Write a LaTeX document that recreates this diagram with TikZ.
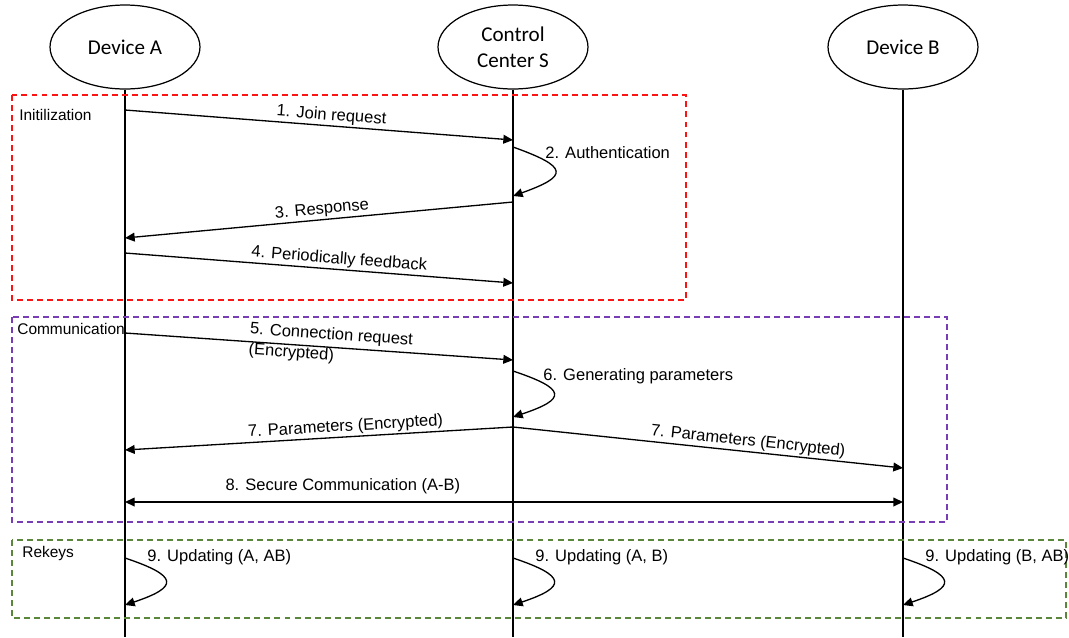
\documentclass[tikz,border=0pt]{standalone}
\usepackage{fontspec}
\setmainfont{Liberation Sans}
\newfontfamily\calibri{Carlito}
\usetikzlibrary{shapes.geometric,arrows.meta,positioning,calc}

\definecolor{initred}{RGB}{250,20,20}
\definecolor{commpurple}{RGB}{120,60,180}
\definecolor{rekeygreen}{RGB}{90,135,60}

\begin{document}
\begin{tikzpicture}[
  x=0.02cm, y=-0.02cm,
  party/.style={ellipse, draw, line width=0.7pt, minimum width=3cm, minimum height=1.68cm, align=center, font=\calibri\fontsize{12}{15}\selectfont},
  phase/.style={dashed, dash pattern=on 3.4pt off 2.3pt, line width=0.8pt},
  phaselbl/.style={anchor=west, inner sep=0pt, font=\fontsize{8.8}{10}\selectfont},
  msg/.style={-{Triangle[length=5.5pt, width=5pt]}, line width=0.75pt},
  lbl/.style={sloped, above, inner sep=1pt, font=\fontsize{9.4}{11}\selectfont},
  looplbl/.style={anchor=west, inner sep=0pt, font=\fontsize{9.4}{11}\selectfont}
]
\useasboundingbox (0,0) rectangle (1069,637);

% parties
\node[party] (A) at (125,47) {Device A};
\node[party] (S) at (513,47) {Control\\Center S};
\node[party] (B) at (903,47) {Device B};

% lifelines
\coordinate (Aend) at (125,637);
\coordinate (Send) at (513,637);
\coordinate (Bend) at (903,637);
\draw[line width=0.75pt] (A) -- (Aend);
\draw[line width=0.75pt] (S) -- (Send);
\draw[line width=0.75pt] (B) -- (Bend);

% phases
\draw[phase, initred] (12,95) rectangle (686,300);
\draw[phase, commpurple] (12,317) rectangle (947,522);
\draw[phase, rekeygreen] (12,540) rectangle (1066,618);
\node[phaselbl] (init) at (19,115) {Initilization};
\node[phaselbl] (comm) at (17,329) {Communication};
\node[phaselbl] (rekey) at (22,553) {Rekeys};

% message points
\coordinate (a1) at (125,110);  \coordinate (s1) at (513,140);
\coordinate (s2) at (513,147);  \coordinate (s3) at (513,196);
\coordinate (s4) at (513,202);  \coordinate (a2) at (125,238);
\coordinate (a3) at (125,253);  \coordinate (s5) at (513,283);
\coordinate (a4) at (125,333);  \coordinate (s6) at (513,360);
\coordinate (s7) at (513,371);  \coordinate (s8) at (513,417);
\coordinate (s9) at (513,427);  \coordinate (a5) at (125,450);
\coordinate (b1) at (903,468);
\coordinate (a6) at (125,502);  \coordinate (b2) at (903,502);
\coordinate (a7) at (125,558);  \coordinate (a8) at (125,605);
\coordinate (s10) at (513,558); \coordinate (s11) at (513,605);
\coordinate (b3) at (903,558);  \coordinate (b4) at (903,605);

% initialization
\draw[msg] (a1) -- node[lbl, pos=.53] {1. Join request} (s1);
\draw[msg] (s2) .. controls +(56,20) and +(56,-20) .. (s3);
\node[looplbl] (auth) at (545,153) {2. Authentication};
\draw[msg] (s4) -- node[lbl, pos=.49] {3. Response} (a2);
\draw[msg] (a3) -- node[lbl, pos=.55] {4. Periodically feedback} (s5);

% communication
\draw[msg] (a4) -- node[sloped, pos=.53, align=left, inner sep=0pt, yshift=1pt, font=\fontsize{9.4}{11.8}\selectfont] {5. Connection request\\(Encrypted)} (s6);
\draw[msg] (s7) .. controls +(54,18) and +(54,-18) .. (s8);
\node[looplbl] (gen) at (543,376) {6. Generating parameters};
\draw[msg] (s9) -- node[lbl, pos=.43] {7. Parameters (Encrypted)} (a5);
\draw[msg] (s9) -- node[lbl, pos=.6] {7. Parameters (Encrypted)} (b1);
\draw[msg, {Triangle[length=5.5pt, width=5pt]}-{Triangle[length=5.5pt, width=5pt]}] (a6) -- node[lbl, pos=.28, above=3pt] {8. Secure Communication (A-B)} (b2);

% rekeys
\draw[msg] (a7) .. controls +(54,18) and +(54,-18) .. (a8);
\draw[msg] (s10) .. controls +(54,18) and +(54,-18) .. (s11);
\draw[msg] (b3) .. controls +(54,18) and +(54,-18) .. (b4);
\node[looplbl] (updA) at (147,557) {9. Updating (A, AB)};
\node[looplbl] (updS) at (535,557) {9. Updating (A, B)};
\node[looplbl] (updB) at (925,557) {9. Updating (B, AB)};
\end{tikzpicture}
\end{document}
